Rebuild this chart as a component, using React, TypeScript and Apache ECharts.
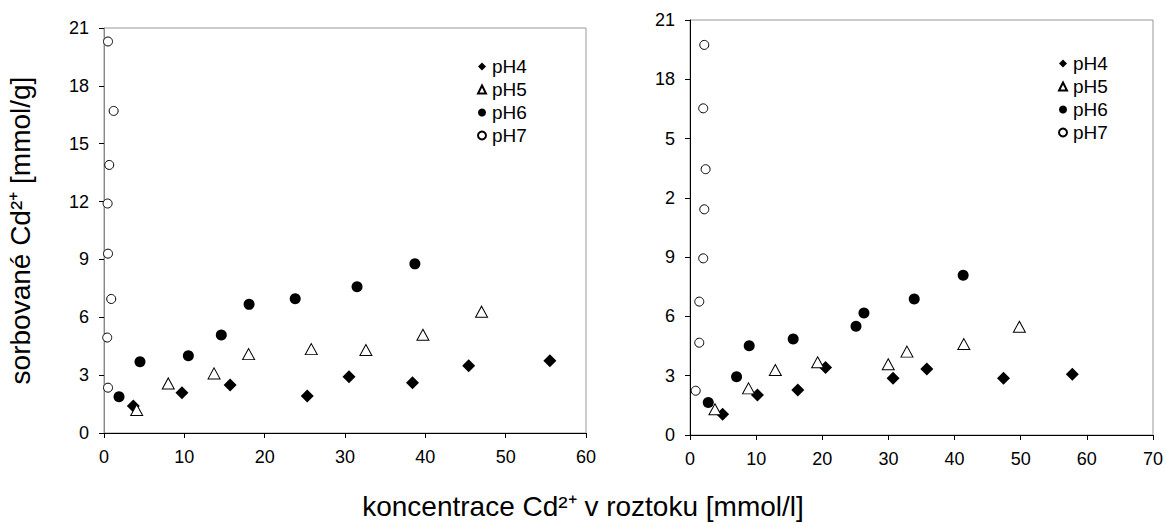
import React, { useEffect, useRef } from "react";
import * as echarts from "echarts";

const seriesNames = ["pH4", "pH5", "pH6", "pH7"];

// Left chart data [x, y]
const leftPH4 = [[3.65, 1.4], [9.7, 2.09], [15.7, 2.49], [25.3, 1.92], [30.5, 2.92], [38.4, 2.61], [45.4, 3.49], [55.5, 3.75]];
const leftPH5 = [[4.07, 1.19], [8.0, 2.57], [13.7, 3.09], [18.0, 4.09], [25.8, 4.35], [32.6, 4.3], [39.7, 5.09], [47.0, 6.29]];
const leftPH6 = [[1.87, 1.88], [4.48, 3.7], [10.5, 4.0], [14.6, 5.08], [18.06, 6.67], [23.8, 6.96], [31.5, 7.58], [38.7, 8.77]];
const leftPH7 = [[0.5, 20.3], [1.2, 16.7], [0.65, 13.9], [0.45, 11.9], [0.5, 9.3], [0.9, 6.95], [0.4, 4.95], [0.5, 2.35]];

// Right chart data [x, y]
const rightPH4 = [[4.93, 1.05], [10.2, 2.02], [16.3, 2.28], [20.5, 3.41], [30.7, 2.87], [35.8, 3.34], [47.4, 2.87], [57.8, 3.07]];
const rightPH5 = [[3.77, 1.3], [8.85, 2.36], [12.9, 3.29], [19.3, 3.68], [29.97, 3.58], [32.8, 4.22], [41.4, 4.6], [49.8, 5.48]];
const rightPH6 = [[2.76, 1.64], [7.04, 2.95], [8.95, 4.52], [15.6, 4.86], [25.1, 5.5], [26.3, 6.17], [33.9, 6.88], [41.3, 8.08]];
const rightPH7 = [[2.16, 19.74], [2.0, 16.53], [2.36, 13.45], [2.16, 11.42], [2.0, 8.94], [1.4, 6.75], [1.4, 4.67], [0.86, 2.24]];

// Tick labels
const leftYTicks = ["0", "3", "6", "9", "12", "15", "18", "21"];
const rightYTicks = ["0", "3", "6", "9", "2", "5", "18", "21"];

const yTitle = "sorbované Cd²⁺ [mmol/g]";
const xTitle = "koncentrace Cd²⁺ v roztoku [mmol/l]";

const FONT = "Liberation Sans, Arial, sans-serif";

export default function App() {
  const ref = useRef<HTMLDivElement>(null);

  useEffect(() => {
    document.body.style.margin = "0";
    if (!ref.current) return;
    const chart = echarts.init(ref.current, undefined, { renderer: "svg" });

    const styles = [
      { symbol: "diamond", symbolSize: 13, itemStyle: { color: "#000", borderColor: "#000", borderWidth: 0, opacity: 1 } },
      { symbol: "triangle", symbolSize: [12, 11], itemStyle: { color: "#fff", borderColor: "#000", borderWidth: 1, opacity: 1 } },
      { symbol: "circle", symbolSize: 11, itemStyle: { color: "#000", borderColor: "#000", borderWidth: 0, opacity: 1 } },
      { symbol: "circle", symbolSize: 9, itemStyle: { color: "#fff", borderColor: "#000", borderWidth: 1, opacity: 1 } },
    ];
    const leftData = [leftPH4, leftPH5, leftPH6, leftPH7];
    const rightData = [rightPH4, rightPH5, rightPH6, rightPH7];

    const series: any[] = [];
    leftData.forEach((d, i) => {
      series.push({ type: "scatter", name: seriesNames[i], xAxisIndex: 0, yAxisIndex: 0, data: d, ...styles[i] });
    });
    rightData.forEach((d, i) => {
      series.push({ type: "scatter", name: seriesNames[i], xAxisIndex: 1, yAxisIndex: 1, data: d, ...styles[i] });
    });

    const legendIcons = ["diamond", "triangle", "circle", "circle"];
    const legendData = seriesNames.map((n, i) => ({ name: n, icon: legendIcons[i] }));
    const legendBase = {
      orient: "vertical",
      itemWidth: 8,
      itemHeight: 8,
      itemGap: 4,
      selectedMode: false,
      textStyle: { fontFamily: FONT, fontSize: 19, color: "#000", padding: [0, 0, 0, 1] },
      data: legendData,
    };

    const xAxisBase = (max: number) => ({
      type: "value",
      min: 0,
      max,
      interval: 10,
      splitLine: { show: false },
      axisLine: { show: true, onZero: false, lineStyle: { color: "#000", width: 1 } },
      axisTick: { show: true, length: 5, lineStyle: { color: "#000" } },
      axisLabel: { color: "#000", fontFamily: FONT, fontSize: 18, margin: 15 },
    });
    const yAxisBase = (labels: string[], lineColor: string) => ({
      type: "value",
      min: 0,
      max: 21,
      interval: 3,
      splitLine: { show: false },
      axisLine: { show: true, onZero: false, lineStyle: { color: lineColor, width: 1 } },
      axisTick: { show: true, length: 5, lineStyle: { color: "#000" } },
      axisLabel: {
        color: "#000",
        fontFamily: FONT,
        fontSize: 18,
        margin: 15,
        formatter: (v: number) => labels[Math.round(v / 3)] ?? "",
      },
    });

    chart.setOption({
      animation: false,
      backgroundColor: "#fff",
      grid: [
        { left: 104, top: 28, width: 482, height: 405, show: true, borderColor: "#999", borderWidth: 1, backgroundColor: "transparent" },
        { left: 690, top: 20, width: 464, height: 415, show: true, borderColor: "#999", borderWidth: 1, backgroundColor: "transparent" },
      ],
      xAxis: [
        { ...xAxisBase(60), gridIndex: 0 },
        { ...xAxisBase(70), gridIndex: 1 },
      ],
      yAxis: [
        {
          ...yAxisBase(leftYTicks, "#888"),
          gridIndex: 0,
          name: yTitle,
          nameLocation: "middle",
          nameGap: 70,
          nameRotate: 90,
          nameTextStyle: { fontFamily: FONT, fontSize: 28, color: "#000" },
        },
        { ...yAxisBase(rightYTicks, "#000"), gridIndex: 1 },
      ],
      legend: [
        { ...legendBase, left: 472, top: 52 },
        { ...legendBase, left: 1053, top: 49 },
      ],
      title: {
        text: xTitle,
        left: "center",
        top: 492,
        padding: 0,
        textStyle: { fontFamily: FONT, fontSize: 28, fontWeight: "normal", color: "#000" },
      },
      series,
    });

    return () => chart.dispose();
  }, []);

  return <div ref={ref} style={{ width: 1166, height: 525 }} />;
}
